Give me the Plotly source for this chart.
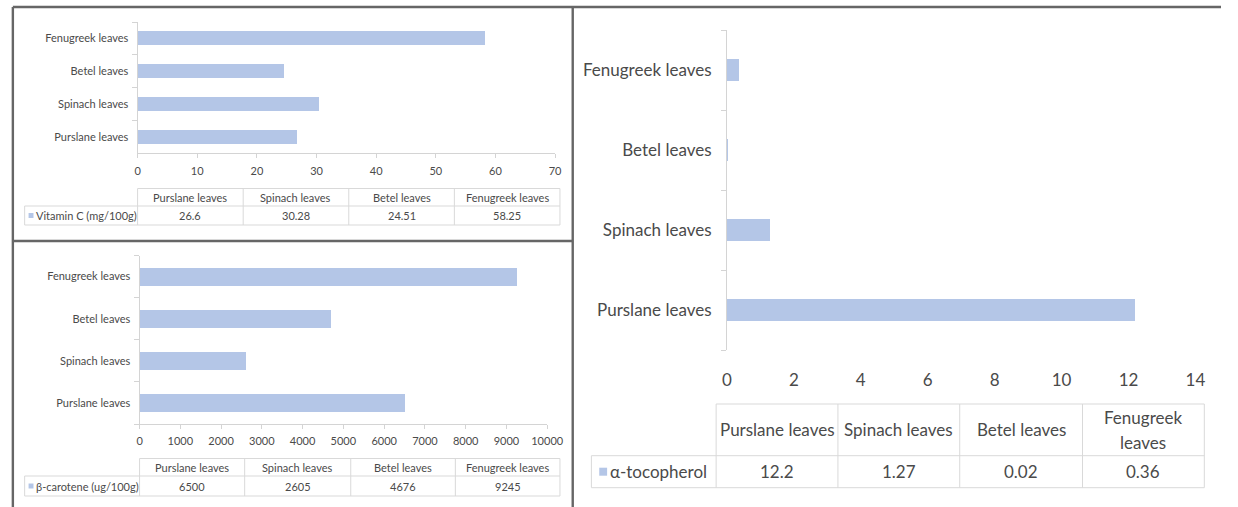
import plotly.graph_objects as go

W, H = 1238, 507

# ---- data ----
leaves = ["Purslane leaves", "Spinach leaves", "Betel leaves", "Fenugreek leaves"]
vitamin_c = [26.6, 30.28, 24.51, 58.25]
beta_carotene = [6500, 2605, 4676, 9245]
alpha_tocopherol = [12.2, 1.27, 0.02, 0.36]

vitc_name = "Vitamin C (mg/100g)"
carot_name = "β-carotene (ug/100g)"
toco_name = "α-tocopherol"

vitc_ticks = [0, 10, 20, 30, 40, 50, 60, 70]
carot_ticks = [0, 1000, 2000, 3000, 4000, 5000, 6000, 7000, 8000, 9000, 10000]
toco_ticks = [0, 2, 4, 6, 8, 10, 12, 14]

small_headers = ["Purslane leaves", "Spinach leaves", "Betel leaves", "Fenugreek leaves"]
large_headers = ["Purslane leaves", "Spinach leaves", "Betel leaves", "Fenugreek<br>leaves"]

# ---- styling ----
BAR = "#b4c6e7"
TXT = "#4a4a4a"
AXIS = "#d4d4d4"
GRID = "#d9d9d9"
FRAME = "#666666"
FONT = "Lato"


def xp(p):
    return p / W


def yp(p):
    return 1 - p / H


fig = go.Figure()

# each panel: data, axis geometry (pixels), table geometry (pixels)
panels = [
    dict(vals=vitamin_c, name=vitc_name, ticks=vitc_ticks, headers=small_headers,
         x0=135, x1=560, top=22, bottom=153.3, fs=11, bw=0.43, xline=True,
         t_left=20, t_cols=[135, 242.5, 350, 457.5, 565], t_rows=[188.5, 206, 225],
         sq=5, ystand=6, xstand=3, line_gap=13),
    dict(vals=beta_carotene, name=carot_name, ticks=carot_ticks, headers=small_headers,
         x0=137, x1=552, top=255.5, bottom=424, fs=11, bw=0.43, xline=True,
         t_left=20, t_cols=[137, 244, 352, 458.5, 565], t_rows=[458.5, 476, 496],
         sq=5, ystand=6, xstand=3, line_gap=13),
    dict(vals=alpha_tocopherol, name=toco_name, ticks=toco_ticks, headers=large_headers,
         x0=735, x1=1212, top=30, bottom=350, fs=17, bw=0.27, xline=False,
         t_left=597, t_cols=[724, 848, 972, 1097, 1221], t_rows=[404, 455.7, 487.7],
         sq=8, ystand=11, xstand=18, line_gap=25),
]

shapes = []
annotations = []

for i, p in enumerate(panels, start=1):
    xa = "x" if i == 1 else f"x{i}"
    ya = "y" if i == 1 else f"y{i}"
    fig.add_trace(go.Bar(
        x=p["vals"], y=leaves, orientation="h", width=p["bw"],
        marker=dict(color=BAR, line=dict(width=0)),
        xaxis=xa, yaxis=ya, showlegend=False, hoverinfo="x+y",
    ))
    xkey = "xaxis" if i == 1 else f"xaxis{i}"
    ykey = "yaxis" if i == 1 else f"yaxis{i}"
    fig.update_layout({
        xkey: dict(
            domain=[xp(p["x0"]), xp(p["x1"])], anchor=ya,
            range=[0, p["ticks"][-1]], tickvals=p["ticks"],
            ticktext=[str(t) for t in p["ticks"]],
            showgrid=False, zeroline=False,
            showline=p["xline"], linecolor=AXIS, linewidth=1,
            ticks="outside" if p["xline"] else "", ticklen=4, tickcolor=AXIS,
            ticklabelstandoff=p["xstand"],
            tickfont=dict(family=FONT, size=p["fs"], color=TXT),
            fixedrange=True,
        ),
        ykey: dict(
            domain=[yp(p["bottom"]), yp(p["top"])], anchor=xa,
            type="category", categoryorder="array", categoryarray=leaves,
            range=[-0.5, len(leaves) - 0.5],
            showgrid=False, zeroline=False,
            showline=True, linecolor=AXIS, linewidth=1,
            ticks="outside", tickson="boundaries", ticklen=5, tickcolor=AXIS,
            ticklabelstandoff=p["ystand"],
            tickfont=dict(family=FONT, size=p["fs"], color=TXT),
            fixedrange=True,
        ),
    })

    # data table underneath the chart
    cols = p["t_cols"]
    top, mid, bot = p["t_rows"]
    left, right = p["t_left"], cols[-1]
    lc = dict(color=GRID, width=1)
    shapes.append(dict(type="line", xref="paper", yref="paper",
                       x0=xp(cols[0]), x1=xp(right), y0=yp(top), y1=yp(top), line=lc))
    for yy in (mid, bot):
        shapes.append(dict(type="line", xref="paper", yref="paper",
                           x0=xp(left), x1=xp(right), y0=yp(yy), y1=yp(yy), line=lc))
    shapes.append(dict(type="line", xref="paper", yref="paper",
                       x0=xp(left), x1=xp(left), y0=yp(mid), y1=yp(bot), line=lc))
    for cx in cols:
        shapes.append(dict(type="line", xref="paper", yref="paper",
                           x0=xp(cx), x1=xp(cx), y0=yp(top), y1=yp(bot), line=lc))

    hc = (top + mid) / 2
    dc = (mid + bot) / 2
    tfont = dict(family=FONT, size=p["fs"], color=TXT)
    for k, (hdr, val) in enumerate(zip(p["headers"], p["vals"])):
        cxm = (cols[k] + cols[k + 1]) / 2
        lines = hdr.split("<br>")
        n = len(lines)
        for j, line in enumerate(lines):
            ly = hc + (j - (n - 1) / 2) * p["line_gap"]
            annotations.append(dict(x=xp(cxm), y=yp(ly), xref="paper", yref="paper",
                                    text=line, showarrow=False, xanchor="center",
                                    yanchor="middle", font=tfont))
        annotations.append(dict(x=xp(cxm), y=yp(dc), xref="paper", yref="paper",
                                text=f"{val:g}", showarrow=False, xanchor="center",
                                yanchor="middle", font=tfont))
    # legend key + series name
    sq = p["sq"]
    kx = left + 4 if sq < 6 else left + 8
    shapes.append(dict(type="rect", xref="paper", yref="paper",
                       x0=xp(kx), x1=xp(kx + sq), y0=yp(dc - sq / 2), y1=yp(dc + sq / 2),
                       fillcolor=BAR, line=dict(width=0)))
    annotations.append(dict(x=xp(kx + sq + 1), y=yp(dc), xref="paper", yref="paper",
                            text=p["name"], showarrow=False, xanchor="left",
                            yanchor="middle", font=tfont))

# panel frames
fr = dict(color=FRAME, width=2.4)
for (x0, y0, x1, y1) in [(8, 7, W, 7), (8, 7, 8, H), (578, 7, 578, H), (8, 241, 578, 241)]:
    shapes.append(dict(type="line", xref="paper", yref="paper",
                       x0=xp(x0), x1=xp(x1), y0=yp(y0), y1=yp(y1), line=fr))

fig.update_layout(
    width=W, height=H, autosize=False,
    margin=dict(l=0, r=0, t=0, b=0),
    paper_bgcolor="white", plot_bgcolor="white",
    shapes=shapes, annotations=annotations,
    showlegend=False, bargap=0,
    font=dict(family=FONT, color=TXT),
)

fig.write_html("out.html", config={"responsive": False, "displayModeBar": False})
